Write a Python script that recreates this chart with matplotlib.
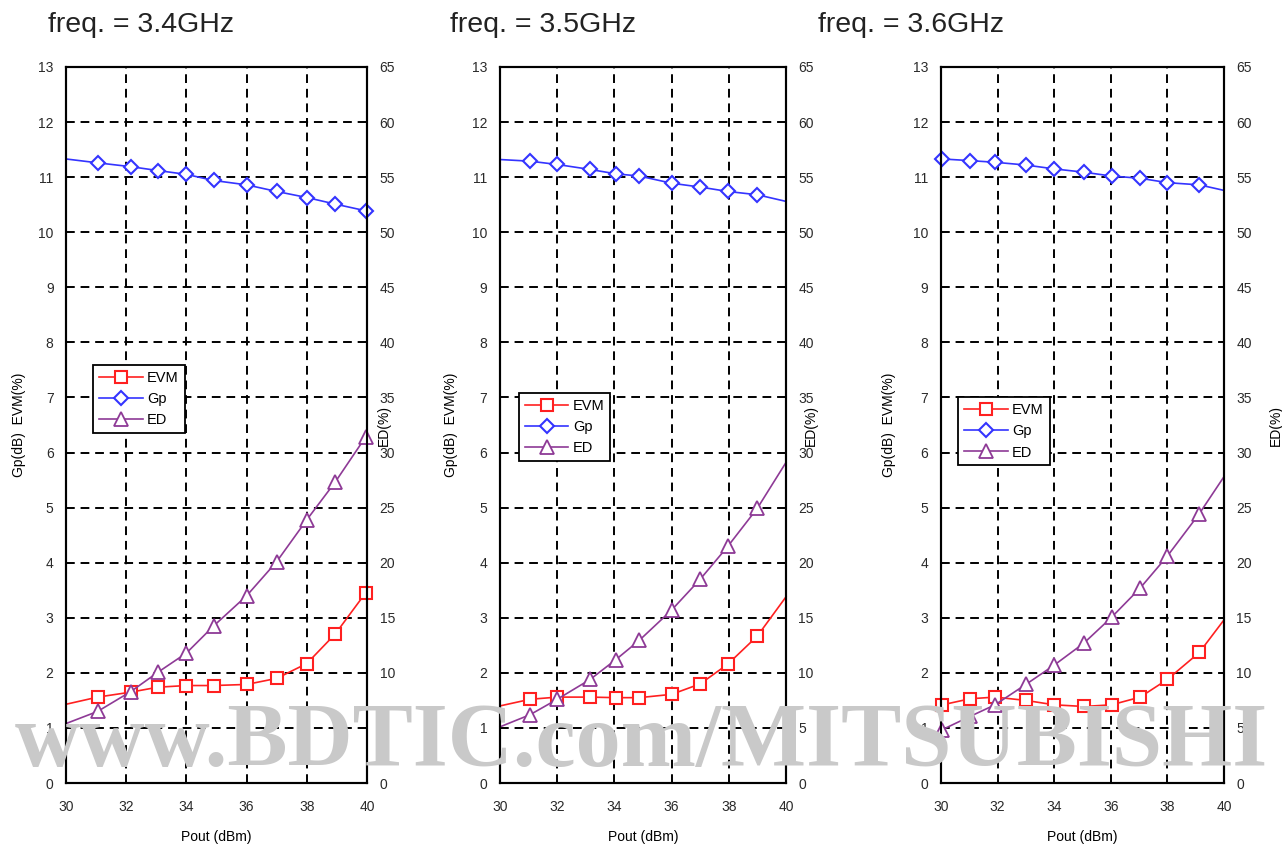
import matplotlib
matplotlib.use("Agg")
import matplotlib.pyplot as plt

plt.rcParams['font.family'] = ['Liberation Sans', 'DejaVu Sans']

# measured points, Pout (dBm)
pout_34 = [30.0, 31.05, 32.15, 33.05, 34.0, 34.9, 36.0, 37.0, 38.0, 38.95, 39.95]
evm_34 = [1.43, 1.56, 1.65, 1.74, 1.77, 1.77, 1.79, 1.90, 2.17, 2.71, 3.45]
gp_34 = [11.33, 11.26, 11.19, 11.12, 11.05, 10.94, 10.86, 10.74, 10.63, 10.51, 10.39]
ed_34 = [5.4, 6.5, 8.3, 10.05, 11.8, 14.25, 17.0, 20.1, 23.9, 27.35, 31.4]

pout_35 = [30.0, 31.05, 32.0, 33.15, 34.05, 34.87, 36.0, 37.0, 37.97, 39.0, 40.0]
evm_35 = [1.40, 1.52, 1.56, 1.56, 1.55, 1.55, 1.61, 1.80, 2.16, 2.67, 3.38]
gp_35 = [11.32, 11.29, 11.23, 11.14, 11.06, 11.02, 10.89, 10.82, 10.74, 10.68, 10.56]
ed_35 = [5.1, 6.2, 7.6, 9.4, 11.2, 12.95, 15.7, 18.5, 21.5, 24.95, 29.1]

pout_36 = [30.05, 31.03, 31.91, 33.0, 34.0, 35.05, 36.03, 37.04, 38.0, 39.13, 40.0]
evm_36 = [1.42, 1.53, 1.56, 1.50, 1.42, 1.39, 1.42, 1.56, 1.88, 2.37, 2.96]
gp_36 = [11.33, 11.30, 11.27, 11.22, 11.15, 11.09, 11.02, 10.98, 10.90, 10.86, 10.76]
ed_36 = [4.85, 6.05, 7.1, 8.95, 10.7, 12.7, 15.05, 17.7, 20.6, 24.45, 27.8]

titles = ["freq. = 3.4GHz", "freq. = 3.5GHz", "freq. = 3.6GHz"]
xticks = [30, 32, 34, 36, 38, 40]

panels = [
    (pout_34, evm_34, gp_34, ed_34),
    (pout_35, evm_35, gp_35, ed_35),
    (pout_36, evm_36, gp_36, ed_36),
]

# layout / style per panel
ax_rects = [
    [0.0515, 0.0777, 0.2348, 0.8434],
    [0.3900, 0.0777, 0.2231, 0.8434],
    [0.7340, 0.0777, 0.2207, 0.8434],
]
title_x = [48, 450, 818]
marks = [slice(1, 11), slice(1, 10), slice(0, 10)]
leg_pos = [(0.09, 0.584), (0.066, 0.545), (0.06, 0.539)]
left_lab_x = [-0.133, -0.147, -0.159]
right_lab_x = [1.033, 1.063, 1.159]

c_evm = '#ff2020'
c_gp = '#3434ff'
c_ed = '#8e3a96'
tick_col = '#2a2a2a'

fig = plt.figure(figsize=(12.82, 8.49), dpi=100)

# watermark behind everything
fig.text(0.5, 0.124, "www.BDTIC.com/MITSUBISHI", ha='center', va='center',
         fontsize=65, fontweight='bold', family='Liberation Serif',
         color='#c9c9c9', zorder=0)

for i, (x, evm, gp, ed) in enumerate(panels):
    ax = fig.add_axes(ax_rects[i])
    ax.set_facecolor('none')
    ax2 = ax.twinx()
    ax2.set_facecolor('none')

    ax.set_xlim(30, 40)
    ax.set_ylim(0, 13)
    ax2.set_ylim(0, 65)
    ax.set_xticks(xticks)
    ax.set_yticks(range(0, 14))
    ax2.set_yticks(range(0, 66, 5))

    ax.grid(True, color='black', linestyle=(0, (4.5, 3)), linewidth=1.4)
    ax.set_axisbelow(True)

    for a in (ax, ax2):
        a.tick_params(length=0, labelsize=10, labelcolor=tick_col)
        for s in a.spines.values():
            s.set_linewidth(1.5)
            s.set_color('black')
    ax.tick_params(axis='y', pad=9)
    ax2.tick_params(axis='y', pad=9)
    ax.tick_params(axis='x', pad=12)

    l_evm, = ax.plot(x, evm, color=c_evm, lw=1.2, marker='s', ms=9,
                     mfc='white', mec=c_evm, mew=1.5, markevery=marks[i],
                     clip_on=False, label='EVM')
    l_gp, = ax.plot(x, gp, color=c_gp, lw=1.2, marker='D', ms=7,
                    mfc='white', mec=c_gp, mew=1.5, markevery=marks[i],
                    clip_on=False, label='Gp')
    l_ed, = ax2.plot(x, ed, color=c_ed, lw=1.2, marker='^', ms=9.5,
                     mfc='white', mec=c_ed, mew=1.3, markevery=marks[i],
                     clip_on=False, label='ED')

    ax.set_ylabel("Gp(dB)  EVM(%)", fontsize=10)
    ax.yaxis.set_label_coords(left_lab_x[i], 0.5)
    ax2.set_ylabel("ED(%)", fontsize=10)
    ax2.yaxis.set_label_coords(right_lab_x[i], 0.5)
    ax.set_xlabel("Pout (dBm)", fontsize=10, labelpad=12)

    leg = ax2.legend([l_evm, l_gp, l_ed], ['EVM', 'Gp', 'ED'],
                     loc='upper left', bbox_to_anchor=leg_pos[i],
                     borderaxespad=0, fontsize=10.5, handlelength=3.0,
                     fancybox=False, framealpha=1, edgecolor='black',
                     borderpad=0.4, labelspacing=0.5, handletextpad=0.3)
    leg.get_frame().set_linewidth(1.3)

    fig.text(title_x[i] / 1282, 1 - 25 / 849, titles[i], ha='left',
             va='center', fontsize=20.5, color='#222222')

fig.savefig("out.png", dpi=100)
